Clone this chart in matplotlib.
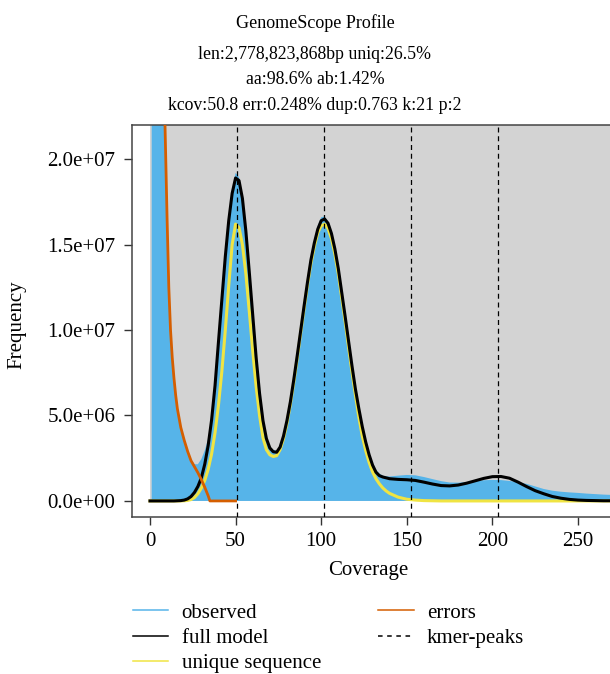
import matplotlib
matplotlib.use("Agg")
import matplotlib.pyplot as plt
from matplotlib.lines import Line2D
from matplotlib.patches import Rectangle
from matplotlib.ticker import FuncFormatter
import numpy as np

plt.rcParams['font.family'] = ['Liberation Serif', 'DejaVu Serif']

## 文字
title = "GenomeScope Profile"
subtitle = ["len:2,778,823,868bp uniq:26.5%",
            "aa:98.6% ab:1.42%",
            "kcov:50.8 err:0.248% dup:0.763 k:21 p:2"]
kcov = 50.8
peak_index = [1, 2, 3, 4]

## 观测到的 k-mer 频数 (单位 1e6)
obs_x = [1, 2, 3, 4, 5, 6, 7, 8, 9, 10, 11,
         12, 14, 16, 18, 20, 22, 24, 26, 28, 30, 32, 34, 36, 38, 40,
         42, 44, 46, 48, 50, 52, 54, 56, 58, 60, 62, 64, 66, 68, 70,
         72, 74, 76, 78, 80, 82, 84, 86, 88, 90, 92, 94, 96, 98, 100,
         102, 104, 106, 108, 110, 112, 114, 116, 118, 120, 122, 124, 126, 128, 130,
         132, 134, 136, 138, 140, 145, 150, 155, 160, 165, 170, 175, 180, 185, 190,
         195, 200, 205, 210, 215, 220, 225, 230, 235, 240, 245, 250, 255, 260, 265, 270]
obs_y = [300, 150, 90, 60, 45, 35, 28, 23.5, 20.5, 16.8, 12.8,
         10.3, 7.3, 5.5, 4.4, 3.6, 2.95, 2.45, 2.15, 2.15, 2.45, 2.95, 3.65, 4.95, 6.9, 9.45,
         11.95, 14.45, 16.6, 18.2, 19.2, 18.95, 17.9, 16.0, 13.6, 11.05, 8.55, 6.45, 4.85, 3.8, 3.2,
         2.97, 2.95, 3.25, 3.9, 4.8, 5.9, 7.2, 8.6, 10.05, 11.5, 12.95, 14.25, 15.3, 16.1, 16.6,
         16.65, 16.35, 15.8, 14.9, 13.75, 12.35, 10.95, 9.5, 8.05, 6.7, 5.55, 4.5, 3.6, 2.85, 2.25,
         1.85, 1.6, 1.48, 1.44, 1.43, 1.48, 1.52, 1.5, 1.4, 1.28, 1.16, 1.08, 1.07, 1.1, 1.16,
         1.21, 1.23, 1.22, 1.17, 1.1, 1.0, 0.85, 0.7, 0.6, 0.54, 0.5, 0.47, 0.43, 0.4, 0.37, 0.35]

## 模型曲线 (单位 1e6)
mod_x = list(range(0, 141, 2)) + list(range(145, 271, 5))
full_model = [0, 0, 0, 0, 0, 0, 0, 0, 0.01, 0.02,
              0.05, 0.12, 0.26, 0.5, 0.85, 1.35, 2.15, 3.25, 4.75, 6.75,
              9.3, 11.8, 14.3, 16.4, 18.0, 18.9, 18.75, 17.7, 15.8, 13.4,
              10.9, 8.4, 6.3, 4.7, 3.65, 3.1, 2.88, 2.85, 3.15, 3.8,
              4.7, 5.8, 7.1, 8.5, 9.95, 11.4, 12.8, 14.1, 15.1, 15.9,
              16.4, 16.5, 16.25, 15.65, 14.75, 13.6, 12.2, 10.8, 9.35, 7.9,
              6.55, 5.4, 4.35, 3.45, 2.7, 2.1, 1.68, 1.48, 1.4, 1.35,
              1.3,
              1.26, 1.24, 1.2, 1.1, 0.99, 0.9, 0.88, 0.93, 1.04, 1.18,
              1.32, 1.42, 1.43, 1.33, 1.1, 0.84, 0.6, 0.42, 0.26, 0.16,
              0.09, 0.05, 0.03, 0.02, 0.01, 0.01]
unique_seq = [0, 0, 0, 0, 0, 0, 0, 0, 0, 0,
              0.01, 0.03, 0.08, 0.2, 0.42, 0.75, 1.2, 1.85, 2.75, 4.0,
              5.6, 7.6, 10.0, 12.6, 15.0, 16.2, 16.0, 15.0, 13.3, 11.1,
              8.8, 6.7, 5.0, 3.7, 3.0, 2.7, 2.6, 2.65, 3.0, 3.65,
              4.55, 5.65, 6.95, 8.35, 9.8, 11.25, 12.65, 13.9, 14.9, 15.7,
              16.1, 16.2, 15.95, 15.35, 14.45, 13.3, 11.9, 10.5, 9.0, 7.55,
              6.2, 4.9, 3.8, 2.95, 2.25, 1.7, 1.3, 1.0, 0.76, 0.58,
              0.44,
              0.22, 0.1, 0.05, 0.02, 0.01, 0, 0, 0, 0, 0,
              0, 0, 0, 0, 0, 0, 0, 0, 0, 0,
              0, 0, 0, 0, 0, 0]

## 错误 k-mer (单位 1e6)
err_x = [5, 6, 7, 8, 9, 10, 11, 12, 13, 14, 15, 16, 18, 20, 22, 24, 26, 28,
         30, 32, 34, 35, 40, 45, 50]
err_y = [60, 42, 32, 25.5, 21, 16.5, 12.5, 10.0, 8.4, 7.2, 6.2, 5.4, 4.3, 3.55,
         2.9, 2.35, 2.0, 1.65, 1.25, 0.8, 0.3, 0, 0, 0, 0]

scale = 1e6
obs_x = np.array(obs_x); obs_y = np.array(obs_y) * scale
mod_x = np.array(mod_x)
full_model = np.array(full_model) * scale
unique_seq = np.array(unique_seq) * scale
err_x = np.array(err_x); err_y = np.array(err_y) * scale

## 颜色
c_obs = "#56B4E9"
c_err = "#D55E00"
c_uni = "#F0E442"
c_bg = "#D3D3D3"

fig = plt.figure(figsize=(6.1, 6.74), dpi=100)
ax = fig.add_axes([132 / 610, 157 / 674, 478 / 610, 392 / 674])

# 背景灰色矩形
ax.add_patch(Rectangle((0, 0), 1000, 1e10, color=c_bg, lw=0, zorder=0))

ax.fill_between(obs_x, 0, obs_y, color=c_obs, lw=0, zorder=1)
ax.plot(err_x, err_y, color=c_err, lw=2.0, zorder=4)
ax.plot(mod_x, unique_seq, color=c_uni, lw=2.2, zorder=2)
ax.plot(mod_x, full_model, color='black', lw=2.2, zorder=3)
for i in peak_index:
    ax.axvline(kcov * i, color='black', ls=(0, (4, 3)), lw=0.9, zorder=5)

ax.set_xlim(-10.5, 268.7)
ax.set_ylim(-0.94e6, 2.2e7)
ax.set_xticks([0, 50, 100, 150, 200, 250])
ax.set_yticks([0, 5e6, 1e7, 1.5e7, 2e7])
ax.yaxis.set_major_formatter(FuncFormatter(lambda v, p: "%.1e" % v))
ax.tick_params(direction='out', length=6, width=1, pad=6, labelsize=15,
               color='#333333')
ax.tick_params(axis='x', pad=5)
for s in ['top', 'left', 'bottom']:
    ax.spines[s].set_color('#444444')
    ax.spines[s].set_linewidth(1.1)
ax.spines['right'].set_visible(False)

ax.set_xlabel("Coverage", fontsize=15)
ax.set_ylabel("Frequency", fontsize=15)
ax.xaxis.set_label_coords(0.495, -0.112)
ax.yaxis.set_label_coords(-0.222, 0.49)

## 标题
fig.text(315 / 610, 1 - 27.7 / 674, title, ha='center', va='baseline', fontsize=13)
for s, yb in zip(subtitle, [59.3, 84.3, 110]):
    fig.text(315 / 610, 1 - yb / 674, s, ha='center', va='baseline', fontsize=12.8)

## 图例
handles = [Line2D([], [], color=c_obs, lw=1.1),
           Line2D([], [], color='black', lw=1.1),
           Line2D([], [], color=c_uni, lw=1.1),
           Line2D([], [], color=c_err, lw=1.1),
           Line2D([], [], color='black', lw=1.1, ls=(0, (3, 3)))]
labels = ["observed", "full model", "unique sequence", "errors", "kmer-peaks"]
fig.legend(handles, labels, loc='upper left', bbox_to_anchor=(133 / 610, 1 - 603 / 674),
           ncol=2, frameon=False, fontsize=15, handlelength=1.7, handletextpad=0.63,
           columnspacing=2.75, labelspacing=0.27, borderaxespad=0, borderpad=0)

fig.savefig("out.png", dpi=100)
